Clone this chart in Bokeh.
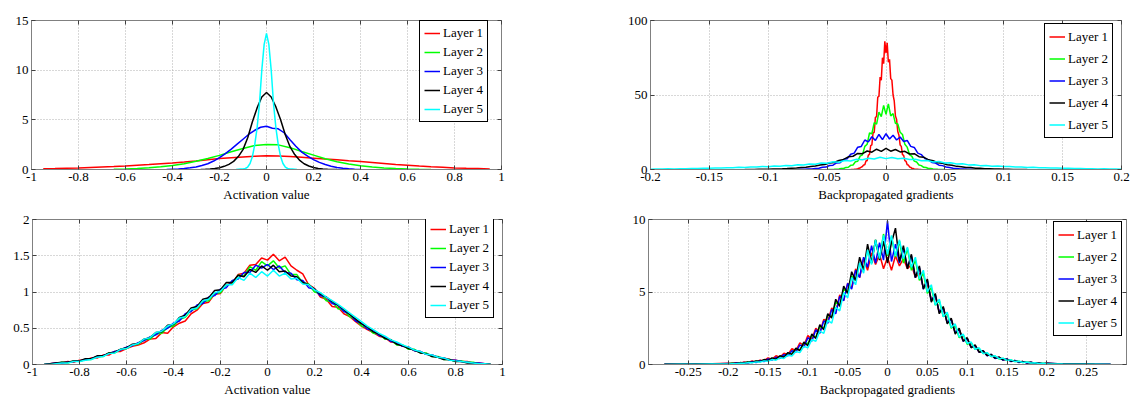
from bokeh.plotting import figure
from bokeh.layouts import column, row
from bokeh.models import Range1d, FixedTicker, LinearAxis
from bokeh.embed import file_html
from bokeh.resources import INLINE

FONT = "'Liberation Serif', 'Times New Roman', serif"
COLORS = ["#ff0000", "#00ff00", "#0000ff", "#000000", "#00ffff"]
LAYERS = ["Layer 1", "Layer 2", "Layer 3", "Layer 4", "Layer 5"]

# ---------------- tick values / labels ----------------
ACT_XTICKS = [-1, -0.8, -0.6, -0.4, -0.2, 0, 0.2, 0.4, 0.6, 0.8, 1]
ACT_XLABELS = ["-1", "-0.8", "-0.6", "-0.4", "-0.2", "0", "0.2", "0.4", "0.6", "0.8", "1"]
TR_XTICKS = [-0.2, -0.15, -0.1, -0.05, 0, 0.05, 0.1, 0.15, 0.2]
TR_XLABELS = ["-0.2", "-0.15", "-0.1", "-0.05", "0", "0.05", "0.1", "0.15", "0.2"]
BR_XTICKS = [-0.25, -0.2, -0.15, -0.1, -0.05, 0, 0.05, 0.1, 0.15, 0.2, 0.25]
BR_XLABELS = ["-0.25", "-0.2", "-0.15", "-0.1", "-0.05", "0", "0.05", "0.1", "0.15", "0.2", "0.25"]
TL_YTICKS = [0, 5, 10, 15]
TL_YLABELS = ["0", "5", "10", "15"]
TR_YTICKS = [0, 50, 100]
TR_YLABELS = ["0", "50", "100"]
BL_YTICKS = [0, 0.5, 1, 1.5, 2]
BL_YLABELS = ["0", "0.5", "1", "1.5", "2"]
BR_YTICKS = [0, 5, 10]
BR_YLABELS = ["0", "5", "10"]

# ---------------- top-left: activation values ----------------
TL_X1 = [-0.95, -0.9, -0.85, -0.8, -0.75, -0.7, -0.65, -0.6, -0.55, -0.5, -0.45, -0.4, -0.35, -0.3, -0.25,
         -0.2, -0.15, -0.1, -0.05, 0, 0.05, 0.1, 0.15, 0.2, 0.25, 0.3, 0.35, 0.4, 0.45, 0.5, 0.55, 0.6,
         0.65, 0.7, 0.75, 0.8, 0.85, 0.9, 0.95]
TL_Y1 = [0.07, 0.09, 0.12, 0.15, 0.2, 0.25, 0.3, 0.36, 0.43, 0.5, 0.58, 0.66, 0.75, 0.86, 0.98, 1.1, 1.19,
         1.27, 1.34, 1.39, 1.37, 1.31, 1.23, 1.14, 1.05, 0.97, 0.88, 0.8, 0.7, 0.6, 0.5, 0.42, 0.34, 0.27,
         0.22, 0.16, 0.12, 0.09, 0.06]
TL_X2 = [-0.65, -0.6, -0.55, -0.5, -0.45, -0.4, -0.35, -0.3, -0.25, -0.2, -0.15, -0.1, -0.05, 0, 0.05,
         0.1, 0.15, 0.2, 0.25, 0.3, 0.35, 0.4, 0.45, 0.5, 0.55, 0.6, 0.65, 0.7]
TL_Y2 = [0.02, 0.05, 0.1, 0.17, 0.27, 0.4, 0.58, 0.82, 1.1, 1.42, 1.78, 2.12, 2.42, 2.52, 2.48, 2.2, 1.82,
         1.45, 1.08, 0.78, 0.55, 0.38, 0.25, 0.16, 0.1, 0.06, 0.03, 0.01]
TL_X3 = [-0.425, -0.4, -0.375, -0.35, -0.325, -0.3, -0.275, -0.25, -0.225, -0.2, -0.175, -0.15, -0.125,
         -0.1, -0.075, -0.05, -0.025, 0, 0.025, 0.05, 0.075, 0.1, 0.125, 0.15, 0.175, 0.2, 0.225, 0.25,
         0.275, 0.3, 0.325, 0.35, 0.375, 0.4]
TL_Y3 = [0.0, 0.03, 0.06, 0.1, 0.17, 0.26, 0.4, 0.58, 0.85, 1.2, 1.6, 2.05, 2.55, 3.05, 3.55, 3.95, 4.25,
         4.35, 4.15, 4.1, 3.7, 3.0, 2.35, 1.75, 1.35, 1.0, 0.72, 0.5, 0.33, 0.2, 0.12, 0.07, 0.03, 0.01]
TL_X4 = [-0.28, -0.26, -0.24, -0.22, -0.2, -0.18, -0.16, -0.14, -0.12, -0.1, -0.08, -0.06, -0.04, -0.02,
         0, 0.02, 0.04, 0.06, 0.08, 0.1, 0.12, 0.14, 0.16, 0.18, 0.2, 0.22, 0.24, 0.26, 0.28, 0.3]
TL_Y4 = [0.0, 0.02, 0.05, 0.1, 0.18, 0.32, 0.52, 0.82, 1.3, 2.0, 3.2, 4.8, 6.2, 7.3, 7.75, 7.3, 6.3, 5.0,
         3.5, 2.3, 1.5, 0.95, 0.58, 0.35, 0.2, 0.11, 0.06, 0.03, 0.01, 0.0]
TL_X5 = [-0.13, -0.12, -0.11, -0.1, -0.09, -0.08, -0.07, -0.06, -0.05, -0.04, -0.03, -0.02, -0.01, 0,
         0.01, 0.02, 0.03, 0.04, 0.05, 0.06, 0.07, 0.08, 0.09, 0.1, 0.11, 0.12, 0.13]
TL_Y5 = [0, 0.02, 0.04, 0.06, 0.1, 0.25, 0.6, 1.3, 2.5, 4.2, 6.6, 10.0, 12.6, 13.7, 12.6, 10.0, 6.6, 4.2,
         2.5, 1.3, 0.6, 0.25, 0.1, 0.06, 0.04, 0.02, 0]

# ---------------- top-right: backpropagated gradients ----------------
TR_X1 = [-0.03, -0.029, -0.028, -0.027, -0.026, -0.025, -0.024, -0.023, -0.022, -0.021, -0.02, -0.019,
         -0.018, -0.017, -0.016, -0.015, -0.014, -0.013, -0.012, -0.011, -0.01, -0.009, -0.008, -0.007,
         -0.006, -0.005, -0.004, -0.003, -0.002, -0.001, 0, 0.001, 0.002, 0.003, 0.004, 0.005, 0.006,
         0.007, 0.008, 0.009, 0.01, 0.011, 0.012, 0.013, 0.014, 0.015, 0.016, 0.017, 0.018, 0.019, 0.02,
         0.021, 0.022, 0.023, 0.024, 0.025, 0.026, 0.027, 0.028, 0.029, 0.03]
TR_Y1 = [0, 0.02, 0.06, 0.1, 0.2, 0.3, 0.5, 0.8, 1.0, 1.6, 2.0, 3.1, 3.2, 5.8, 5.9, 9.6, 10.2, 16.0, 16.5,
         24.5, 25.0, 35.0, 35.5, 48.5, 49.0, 62.0, 60.0, 75.0, 71.0, 86.0, 78.0, 85.0, 72.0, 74.0, 61.0,
         60.0, 50.0, 46.0, 36.0, 33.5, 25.5, 23.0, 16.5, 15.5, 10.0, 9.5, 6.0, 5.5, 3.2, 3.0, 1.7, 1.4,
         0.8, 0.7, 0.4, 0.25, 0.15, 0.1, 0.05, 0.02, 0]
TR_X2 = [-0.05, -0.048, -0.046, -0.044, -0.042, -0.04, -0.038, -0.036, -0.034, -0.032, -0.03, -0.028,
         -0.026, -0.024, -0.022, -0.02, -0.018, -0.016, -0.014, -0.012, -0.01, -0.008, -0.006, -0.004,
         -0.002, 0, 0.002, 0.004, 0.006, 0.008, 0.01, 0.012, 0.014, 0.016, 0.018, 0.02, 0.022, 0.024,
         0.026, 0.028, 0.03, 0.032, 0.034, 0.036, 0.038, 0.04, 0.042, 0.044, 0.046, 0.048, 0.05]
TR_Y2 = [0, 0.02, 0.06, 0.1, 0.25, 0.3, 0.6, 0.7, 1.4, 1.5, 2.8, 3.0, 5.2, 5.5, 9.0, 9.8, 15.5, 17.0, 24.5,
         24.0, 31.5, 30.5, 38.5, 35.5, 43.0, 37.0, 44.0, 36.0, 37.5, 31.0, 30.5, 25.0, 23.5, 17.0, 15.0,
         10.0, 8.8, 5.6, 5.0, 3.0, 2.6, 1.5, 1.3, 0.7, 0.6, 0.3, 0.2, 0.1, 0.05, 0.02, 0]
TR_X3 = [-0.075, -0.072, -0.069, -0.066, -0.063, -0.06, -0.057, -0.054, -0.051, -0.048, -0.045, -0.042,
         -0.039, -0.036, -0.033, -0.03, -0.027, -0.024, -0.021, -0.018, -0.015, -0.012, -0.009, -0.006,
         -0.003, 0, 0.003, 0.006, 0.009, 0.012, 0.015, 0.018, 0.021, 0.024, 0.027, 0.03, 0.033, 0.036,
         0.039, 0.042, 0.045, 0.048, 0.051, 0.054, 0.057, 0.06, 0.063, 0.066, 0.069, 0.072, 0.075]
TR_Y3 = [0, 0.1, 0.12, 0.3, 0.35, 0.7, 0.8, 1.5, 1.6, 2.7, 2.9, 4.4, 4.6, 6.8, 7.2, 10.2, 11.0, 15.0, 15.5,
         19.8, 18.5, 22.0, 19.5, 23.5, 20.0, 24.0, 20.5, 23.0, 19.8, 21.8, 18.8, 19.5, 15.5, 14.8, 11.0,
         10.0, 7.3, 6.6, 4.7, 4.3, 2.9, 2.6, 1.7, 1.4, 0.85, 0.7, 0.4, 0.3, 0.15, 0.1, 0]
TR_X4 = [-0.12, -0.116, -0.112, -0.108, -0.104, -0.1, -0.096, -0.092, -0.088, -0.084, -0.08, -0.076,
         -0.072, -0.068, -0.064, -0.06, -0.056, -0.052, -0.048, -0.044, -0.04, -0.036, -0.032, -0.028,
         -0.024, -0.02, -0.016, -0.012, -0.008, -0.004, 0, 0.004, 0.008, 0.012, 0.016, 0.02, 0.024,
         0.028, 0.032, 0.036, 0.04, 0.044, 0.048, 0.052, 0.056, 0.06, 0.064, 0.068, 0.072, 0.076, 0.08,
         0.084, 0.088, 0.092, 0.096, 0.1, 0.104, 0.108, 0.112, 0.116, 0.12]
TR_Y4 = [0, 0.03, 0.06, 0.1, 0.14, 0.2, 0.3, 0.38, 0.5, 0.65, 0.85, 1.0, 1.35, 1.5, 2.0, 2.3, 3.0, 3.4, 4.3,
         4.7, 6.0, 6.8, 8.5, 8.9, 10.8, 10.6, 12.4, 11.6, 13.6, 12.2, 14.2, 12.3, 13.4, 11.8, 12.2, 10.4,
         10.6, 8.6, 8.3, 6.5, 5.9, 4.5, 4.2, 3.2, 2.9, 2.1, 1.9, 1.4, 1.3, 0.9, 0.8, 0.55, 0.5, 0.32,
         0.28, 0.17, 0.13, 0.07, 0.05, 0.02, 0]
GRID_005 = [-0.2, -0.195, -0.19, -0.185, -0.18, -0.175, -0.17, -0.165, -0.16, -0.155, -0.15, -0.145,
            -0.14, -0.135, -0.13, -0.125, -0.12, -0.115, -0.11, -0.105, -0.1, -0.095, -0.09, -0.085,
            -0.08, -0.075, -0.07, -0.065, -0.06, -0.055, -0.05, -0.045, -0.04, -0.035, -0.03, -0.025,
            -0.02, -0.015, -0.01, -0.005, 0, 0.005, 0.01, 0.015, 0.02, 0.025, 0.03, 0.035, 0.04, 0.045,
            0.05, 0.055, 0.06, 0.065, 0.07, 0.075, 0.08, 0.085, 0.09, 0.095, 0.1, 0.105, 0.11, 0.115,
            0.12, 0.125, 0.13, 0.135, 0.14, 0.145, 0.15, 0.155, 0.16, 0.165, 0.17, 0.175, 0.18, 0.185,
            0.19, 0.195, 0.2]
TR_X5 = GRID_005
TR_Y5 = [0.25, 0.32, 0.3, 0.42, 0.4, 0.55, 0.52, 0.7, 0.66, 0.88, 0.85, 1.05, 1.0, 1.25, 1.2, 1.45, 1.38,
         1.7, 1.62, 2.0, 1.9, 2.35, 2.2, 2.7, 2.55, 3.15, 2.95, 3.7, 3.5, 4.4, 4.2, 5.2, 4.9, 6.0, 5.7, 6.9,
         6.5, 7.6, 7.0, 8.2, 7.3, 8.1, 7.2, 7.6, 6.7, 6.9, 5.9, 6.1, 5.1, 5.3, 4.4, 4.5, 3.7, 3.8, 3.1,
         3.2, 2.6, 2.7, 2.25, 2.3, 1.95, 2.0, 1.65, 1.7, 1.4, 1.45, 1.2, 1.25, 1.0, 1.05, 0.85, 0.88,
         0.68, 0.7, 0.52, 0.56, 0.4, 0.43, 0.3, 0.33, 0.25]

# ---------------- bottom-left: activation values (normalized init) ----------------
BL_X = [-0.95, -0.925, -0.9, -0.875, -0.85, -0.825, -0.8, -0.775, -0.75, -0.725, -0.7, -0.675, -0.65,
        -0.625, -0.6, -0.575, -0.55, -0.525, -0.5, -0.475, -0.45, -0.425, -0.4, -0.375, -0.35, -0.325,
        -0.3, -0.275, -0.25, -0.225, -0.2, -0.175, -0.15, -0.125, -0.1, -0.075, -0.05, -0.025, 0, 0.025,
        0.05, 0.075, 0.1, 0.125, 0.15, 0.175, 0.2, 0.225, 0.25, 0.275, 0.3, 0.325, 0.35, 0.375, 0.4,
        0.425, 0.45, 0.475, 0.5, 0.525, 0.55, 0.575, 0.6, 0.625, 0.65, 0.675, 0.7, 0.725, 0.75, 0.775,
        0.8, 0.825, 0.85, 0.875, 0.9, 0.925, 0.95]
BL_Y1 = [0.0, 0.01, 0.02, 0.02, 0.04, 0.03, 0.06, 0.06, 0.09, 0.09,
         0.13, 0.13, 0.18, 0.18, 0.22, 0.25, 0.27, 0.3, 0.35, 0.36,
         0.44, 0.43, 0.52, 0.57, 0.6, 0.7, 0.75, 0.84, 0.86, 0.97,
         0.98, 1.1, 1.12, 1.24, 1.26, 1.37, 1.38, 1.47,
         1.44,
         1.52, 1.43, 1.48, 1.36, 1.3, 1.25, 1.1, 1.05,
         0.93, 0.9, 0.8, 0.79, 0.7, 0.66, 0.59, 0.53, 0.48, 0.44,
         0.39, 0.37, 0.31, 0.3, 0.25, 0.24, 0.19, 0.18, 0.14, 0.13,
         0.1, 0.09, 0.07, 0.06, 0.04, 0.04, 0.02, 0.02, 0.01, 0.0]
BL_Y2 = [0.0, 0.01, 0.01, 0.03, 0.02, 0.05, 0.04, 0.07, 0.07, 0.11,
         0.11, 0.16, 0.16, 0.21, 0.22, 0.27, 0.28, 0.34, 0.35, 0.42,
         0.43, 0.51, 0.53, 0.62, 0.65, 0.75, 0.77, 0.87, 0.88, 0.98,
         0.99, 1.1, 1.11, 1.23, 1.22, 1.35, 1.3, 1.42,
         1.36,
         1.43, 1.33, 1.36, 1.24, 1.24, 1.13, 1.11, 1.0,
         0.98, 0.88, 0.87, 0.77, 0.75, 0.66, 0.62, 0.53, 0.51, 0.43,
         0.42, 0.35, 0.34, 0.27, 0.27, 0.21, 0.21, 0.16, 0.16, 0.11,
         0.11, 0.07, 0.07, 0.04, 0.05, 0.03, 0.03, 0.01, 0.01, 0.0]
BL_Y3 = [0.0, 0.01, 0.02, 0.02, 0.03, 0.04, 0.05, 0.07, 0.08, 0.11,
         0.12, 0.15, 0.18, 0.2, 0.24, 0.26, 0.3, 0.33, 0.38, 0.41,
         0.47, 0.5, 0.57, 0.6, 0.7, 0.73, 0.82, 0.84, 0.93, 0.95,
         1.04, 1.06, 1.16, 1.18, 1.27, 1.27, 1.37, 1.33,
         1.38,
         1.31, 1.36, 1.27, 1.26, 1.17, 1.16, 1.06, 1.04,
         0.95, 0.93, 0.84, 0.82, 0.73, 0.7, 0.6, 0.57, 0.49, 0.47,
         0.4, 0.38, 0.32, 0.3, 0.25, 0.24, 0.19, 0.18, 0.14, 0.13,
         0.1, 0.09, 0.06, 0.06, 0.04, 0.03, 0.02, 0.02, 0.01, 0.0]
BL_Y4 = [0.0, 0.01, 0.02, 0.03, 0.03, 0.05, 0.05, 0.08, 0.08, 0.12,
         0.12, 0.16, 0.17, 0.21, 0.23, 0.28, 0.29, 0.35, 0.37, 0.44,
         0.45, 0.54, 0.55, 0.65, 0.68, 0.78, 0.8, 0.9, 0.92, 1.02,
         1.03, 1.13, 1.13, 1.23, 1.21, 1.31, 1.27, 1.36,
         1.3,
         1.37, 1.28, 1.29, 1.22, 1.21, 1.13, 1.1, 1.04,
         0.97, 0.93, 0.87, 0.82, 0.76, 0.69, 0.63, 0.56, 0.52, 0.45,
         0.42, 0.36, 0.34, 0.28, 0.26, 0.22, 0.2, 0.16, 0.15, 0.11,
         0.1, 0.07, 0.07, 0.04, 0.04, 0.02, 0.02, 0.01, 0.01, 0.0]
BL_Y5 = [0.0, 0.0, 0.01, 0.02, 0.02, 0.04, 0.04, 0.06, 0.07, 0.1,
         0.11, 0.15, 0.16, 0.21, 0.22, 0.27, 0.29, 0.35, 0.37, 0.44,
         0.46, 0.53, 0.56, 0.64, 0.66, 0.76, 0.78, 0.88, 0.9, 0.99,
         1.01, 1.1, 1.1, 1.2, 1.16, 1.26, 1.2, 1.28,
         1.22,
         1.3, 1.22, 1.26, 1.18, 1.19, 1.11, 1.1, 1.03,
         0.99, 0.93, 0.88, 0.83, 0.77, 0.71, 0.65, 0.59, 0.53, 0.48,
         0.43, 0.39, 0.34, 0.31, 0.27, 0.24, 0.2, 0.18, 0.14, 0.13,
         0.1, 0.09, 0.06, 0.05, 0.04, 0.03, 0.02, 0.01, 0.01, 0.0]

# ---------------- bottom-right: backpropagated gradients (normalized init) ----------------
BR_X = [-0.28, -0.26, -0.24, -0.22] + GRID_005 + [0.22, 0.24, 0.26, 0.28]
BR_Y1 = [0.01, 0.03, 0.02, 0.05,
         0.08, 0.05, 0.12, 0.08, 0.17, 0.12, 0.24, 0.18, 0.3, 0.26,
         0.45, 0.36, 0.6, 0.5, 0.78, 0.7, 1.1, 0.95, 1.5, 1.3,
         2.0, 1.75, 2.5, 2.2, 3.1, 3.0, 3.9, 3.6, 4.8, 4.4,
         5.6, 5.3, 6.6, 6.0, 7.3, 6.5, 7.7, 6.9, 7.6, 6.6,
         7.4,
         6.5, 7.5, 6.8, 7.3, 6.6, 6.9, 6.0, 6.3, 5.3, 5.5,
         4.5, 4.7, 3.6, 3.9, 2.9, 3.1, 2.2, 2.4, 1.65, 1.8,
         1.2, 1.3, 0.85, 0.95, 0.62, 0.68, 0.44, 0.5, 0.32, 0.36,
         0.24, 0.26, 0.17, 0.2, 0.12, 0.14, 0.08, 0.1, 0.05, 0.07,
         0.04, 0.02, 0.02, 0.0]
BR_Y2 = [0.0, 0.02, 0.01, 0.03,
         0.05, 0.08, 0.06, 0.12, 0.1, 0.17, 0.15, 0.23, 0.2, 0.31,
         0.28, 0.42, 0.38, 0.56, 0.52, 0.78, 0.74, 1.08, 1.02, 1.5,
         1.45, 2.0, 1.9, 2.6, 2.5, 3.4, 3.3, 4.3, 4.1, 5.2,
         5.0, 6.1, 5.8, 7.0, 6.5, 7.9, 7.0, 8.6, 7.3, 9.0,
         7.5,
         8.8, 7.4, 8.5, 7.0, 8.0, 6.5, 7.2, 5.8, 6.3, 4.9,
         5.3, 4.1, 4.4, 3.3, 3.5, 2.5, 2.7, 1.85, 2.05, 1.4,
         1.5, 1.05, 1.1, 0.75, 0.8, 0.55, 0.58, 0.38, 0.42, 0.28,
         0.31, 0.2, 0.23, 0.14, 0.17, 0.1, 0.12, 0.06, 0.09, 0.05,
         0.03, 0.01, 0.01, 0.0]
BR_Y3 = [0.01, 0.02, 0.03, 0.04,
         0.07, 0.04, 0.1, 0.07, 0.14, 0.1, 0.2, 0.14, 0.27, 0.2,
         0.38, 0.3, 0.5, 0.42, 0.68, 0.6, 0.95, 0.85, 1.35, 1.2,
         1.85, 1.6, 2.4, 2.15, 3.0, 2.85, 3.8, 3.5, 4.7, 4.4,
         5.6, 5.2, 6.5, 6.0, 7.4, 6.7, 8.2, 7.0, 8.4, 7.2,
         9.9,
         7.1, 8.3, 7.0, 8.0, 6.7, 7.5, 6.0, 6.7, 5.2, 5.8,
         4.4, 4.8, 3.6, 3.9, 2.9, 3.1, 2.2, 2.4, 1.6, 1.8,
         1.2, 1.3, 0.85, 0.95, 0.6, 0.7, 0.42, 0.5, 0.3, 0.38,
         0.2, 0.28, 0.14, 0.2, 0.1, 0.15, 0.07, 0.11, 0.04, 0.08,
         0.04, 0.03, 0.02, 0.02]
BR_Y4 = [0.02, 0.01, 0.03, 0.04,
         0.06, 0.09, 0.07, 0.13, 0.1, 0.18, 0.14, 0.25, 0.2, 0.34,
         0.27, 0.45, 0.37, 0.6, 0.5, 0.82, 0.7, 1.12, 0.95, 1.55,
         1.3, 2.1, 1.8, 2.75, 2.4, 3.5, 3.2, 4.5, 4.0, 5.4,
         4.9, 6.4, 5.8, 7.4, 6.5, 8.3, 7.0, 8.6, 7.2, 8.5,
         7.0,
         8.4, 9.4, 7.1, 8.2, 6.6, 7.6, 6.0, 6.8, 5.2, 5.9,
         4.3, 4.9, 3.5, 4.0, 2.8, 3.2, 2.1, 2.5, 1.6, 1.85,
         1.15, 1.35, 0.85, 0.95, 0.62, 0.7, 0.44, 0.5, 0.32, 0.37,
         0.23, 0.27, 0.17, 0.2, 0.12, 0.15, 0.08, 0.11, 0.05, 0.08,
         0.03, 0.03, 0.01, 0.0]
BR_Y5 = [0.0, 0.01, 0.02, 0.03,
         0.04, 0.06, 0.05, 0.09, 0.08, 0.13, 0.12, 0.18, 0.17, 0.25,
         0.22, 0.34, 0.3, 0.46, 0.42, 0.64, 0.58, 0.9, 0.82, 1.25,
         1.15, 1.72, 1.6, 2.3, 2.15, 3.05, 2.85, 3.95, 3.7, 4.95,
         4.6, 6.0, 5.5, 7.0, 6.3, 7.9, 6.9, 8.6, 7.3, 8.9,
         7.6,
         8.9, 7.5, 8.6, 7.3, 8.1, 6.7, 7.4, 5.9, 6.5, 5.0,
         5.5, 4.1, 4.5, 3.3, 3.6, 2.55, 2.8, 1.9, 2.1, 1.45,
         1.55, 1.05, 1.15, 0.75, 0.82, 0.55, 0.6, 0.4, 0.44, 0.28,
         0.32, 0.2, 0.23, 0.14, 0.17, 0.1, 0.12, 0.07, 0.09, 0.05,
         0.03, 0.02, 0.01, 0.0]


def mirror_axis(ticks):
    ax = LinearAxis(ticker=FixedTicker(ticks=ticks))
    ax.major_label_overrides = {t: "" for t in ticks}
    ax.major_label_text_font_size = "0px"
    ax.major_label_standoff = 0
    ax.axis_line_color = None
    ax.major_tick_line_color = "#404040"
    ax.major_tick_in = 4
    ax.major_tick_out = 0
    ax.minor_tick_line_color = None
    return ax


def make_panel(width, height, borders, xr, yr, xticks, xlabels, yticks, ylabels, xtitle, series,
               legend_loc, item_h, item_gap, pad):
    bl, br, bt, bb = borders
    p = figure(width=width, height=height, x_range=Range1d(xr[0], xr[1]), y_range=Range1d(yr[0], yr[1]),
               output_backend="svg", toolbar_location=None,
               min_border_left=bl, min_border_right=br, min_border_top=bt, min_border_bottom=bb)
    p.background_fill_color = "white"
    p.border_fill_color = "white"
    p.outline_line_color = "#808080"
    p.outline_line_width = 1

    for (xs, ys), color, name in zip(series, COLORS, LAYERS):
        p.line(xs, ys, line_color=color, line_width=1.5, legend_label=name)

    p.xaxis.ticker = FixedTicker(ticks=xticks)
    p.xaxis.major_label_overrides = {t: s for t, s in zip(xticks, xlabels)}
    p.yaxis.ticker = FixedTicker(ticks=yticks)
    p.yaxis.major_label_overrides = {t: s for t, s in zip(yticks, ylabels)}
    for ax in (p.xaxis, p.yaxis):
        ax.axis_line_color = "#808080"
        ax.major_tick_line_color = "#404040"
        ax.major_tick_in = 4
        ax.major_tick_out = 0
        ax.minor_tick_line_color = None
        ax.major_label_text_font = FONT
        ax.major_label_text_font_size = "13px"
        ax.major_label_text_color = "black"
        ax.major_label_standoff = 3
    p.xaxis.axis_label = xtitle
    p.xaxis.axis_label_text_font = FONT
    p.xaxis.axis_label_text_font_size = "13px"
    p.xaxis.axis_label_text_font_style = "normal"
    p.xaxis.axis_label_text_color = "black"
    p.xaxis.axis_label_standoff = 3

    p.add_layout(mirror_axis(xticks), "above")
    p.add_layout(mirror_axis(yticks), "right")

    for g in (p.xgrid, p.ygrid):
        g.grid_line_color = "#b0b0b0"
        g.grid_line_dash = "1 2"
        g.grid_line_width = 1

    lg = p.legend[0]
    lg.location = legend_loc
    lg.border_line_color = "black"
    lg.border_line_width = 1
    lg.border_line_alpha = 1
    lg.background_fill_color = "white"
    lg.background_fill_alpha = 1
    lg.label_text_font = FONT
    lg.label_text_font_size = "13px"
    lg.label_text_color = "black"
    lg.glyph_width = 16
    lg.glyph_height = item_h
    lg.label_height = item_h
    lg.spacing = item_gap
    lg.padding = pad
    lg.margin = 0
    lg.label_standoff = 3
    return p


tl = make_panel(548, 206, (31, 47, 17, 37), (-1, 1), (0, 15), ACT_XTICKS, ACT_XLABELS, TL_YTICKS, TL_YLABELS,
                "Activation value",
                [(TL_X1, TL_Y1), (TL_X2, TL_Y2), (TL_X3, TL_Y3), (TL_X4, TL_Y4), (TL_X5, TL_Y5)],
                (388, 47), 16, 3, 4)
tr = make_panel(583, 206, (102, 10, 20, 37), (-0.2, 0.2), (0, 100), TR_XTICKS, TR_XLABELS, TR_YTICKS, TR_YLABELS,
                "Backpropagated gradients",
                [(TR_X1, TR_Y1), (TR_X2, TR_Y2), (TR_X3, TR_Y3), (TR_X4, TR_Y4), (TR_X5, TR_Y5)],
                (394, 31), 17, 5, 4)
bl = make_panel(548, 197, (32, 46, 10, 37), (-1, 1), (0, 2), ACT_XTICKS, ACT_XLABELS, BL_YTICKS, BL_YLABELS,
                "Activation value",
                [(BL_X, BL_Y1), (BL_X, BL_Y2), (BL_X, BL_Y3), (BL_X, BL_Y4), (BL_X, BL_Y5)],
                (393, 46), 16, 3, 4)
br = make_panel(583, 197, (100, 5, 13, 39), (-0.3, 0.3), (0, 10), BR_XTICKS, BR_XLABELS, BR_YTICKS, BR_YLABELS,
                "Backpropagated gradients",
                [(BR_X, BR_Y1), (BR_X, BR_Y2), (BR_X, BR_Y3), (BR_X, BR_Y4), (BR_X, BR_Y5)],
                (405, 28), 17, 5, 4)

p = column(row(tl, tr), row(bl, br))
open("out.html", "w").write(file_html(p, INLINE))
